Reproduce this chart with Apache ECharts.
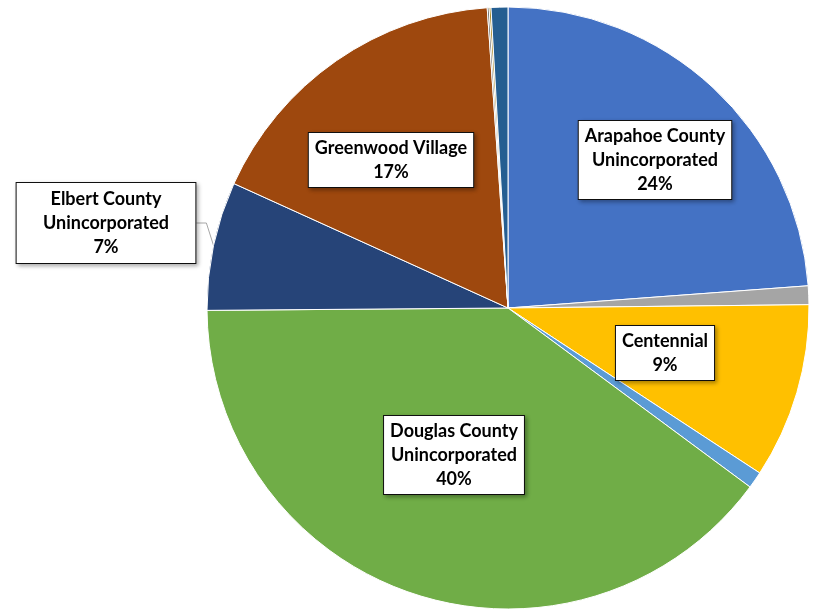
<!DOCTYPE html>
<html>
<head>
<meta charset="utf-8">
<script src="https://cdn.jsdelivr.net/npm/echarts@6/dist/echarts.min.js"></script>
<style>
  html, body { margin: 0; padding: 0; background: #fff; }
  #chart { width: 817px; height: 609px; }
</style>
</head>
<body>
<div id="chart"></div>
<script>
// slice names, clockwise from 12 o'clock
const categories = [
  'Arapahoe County\nUnincorporated',
  'Other A',
  'Centennial',
  'Other B',
  'Douglas County\nUnincorporated',
  'Elbert County\nUnincorporated',
  'Greenwood Village',
  'Other C',
  'Other D',
  'Other E'
];
// share of total (%)
const values = [23.8, 1.0, 9.4, 0.9, 39.7, 6.9, 17.1, 0.1, 0.1, 0.9];
const colors = ['#4472C4', '#A5A5A5', '#FFC000', '#5B9BD5', '#70AD47',
  '#264478', '#9E480E', '#636363', '#997300', '#255E91'];
// which slices get a data label
const labelled = [true, false, true, false, true, true, true, false, false, false];

// label box centres (Excel "best fit" placement)
const labelPos = {
  0: [655, 160],
  2: [665, 353],
  4: [454, 455],
  5: [106, 223],
  6: [391, 160]
};

const chart = echarts.init(document.getElementById('chart'));

const data = categories.map((name, i) => ({
  name: name,
  value: values[i],
  itemStyle: { color: colors[i] },
  label: {
    show: labelled[i],
    position: i === 5 ? 'outside' : 'inside',
    padding: i === 5 ? [4, 34] : [3, 6]
  },
  labelLine: { show: i === 5 }
}));

chart.setOption({
  animation: false,
  series: [{
    type: 'pie',
    center: [508, 308],
    radius: 301,
    startAngle: 90,
    clockwise: true,
    data: data,
    itemStyle: { borderColor: '#fff', borderWidth: 1 },
    label: {
      formatter: p => p.name + '\n' + Math.round(p.percent) + '%',
      fontFamily: 'Lato',
      fontWeight: 'bold',
      fontSize: 18,
      lineHeight: 24,
      color: '#000',
      align: 'center',
      overflow: 'none',
      backgroundColor: '#fff',
      borderColor: '#111',
      borderWidth: 1,
      shadowColor: 'rgba(0,0,0,0.3)',
      shadowBlur: 4,
      shadowOffsetX: 2,
      shadowOffsetY: 2
    },
    labelLine: {
      length: 10,
      length2: 10,
      lineStyle: { color: '#a6a6a6', width: 1 }
    },
    labelLayout: function (params) {
      const p = labelPos[params.dataIndex];
      if (!p) return {};
      return { x: p[0], y: p[1], align: 'center', verticalAlign: 'middle' };
    }
  }]
});
</script>
</body>
</html>
